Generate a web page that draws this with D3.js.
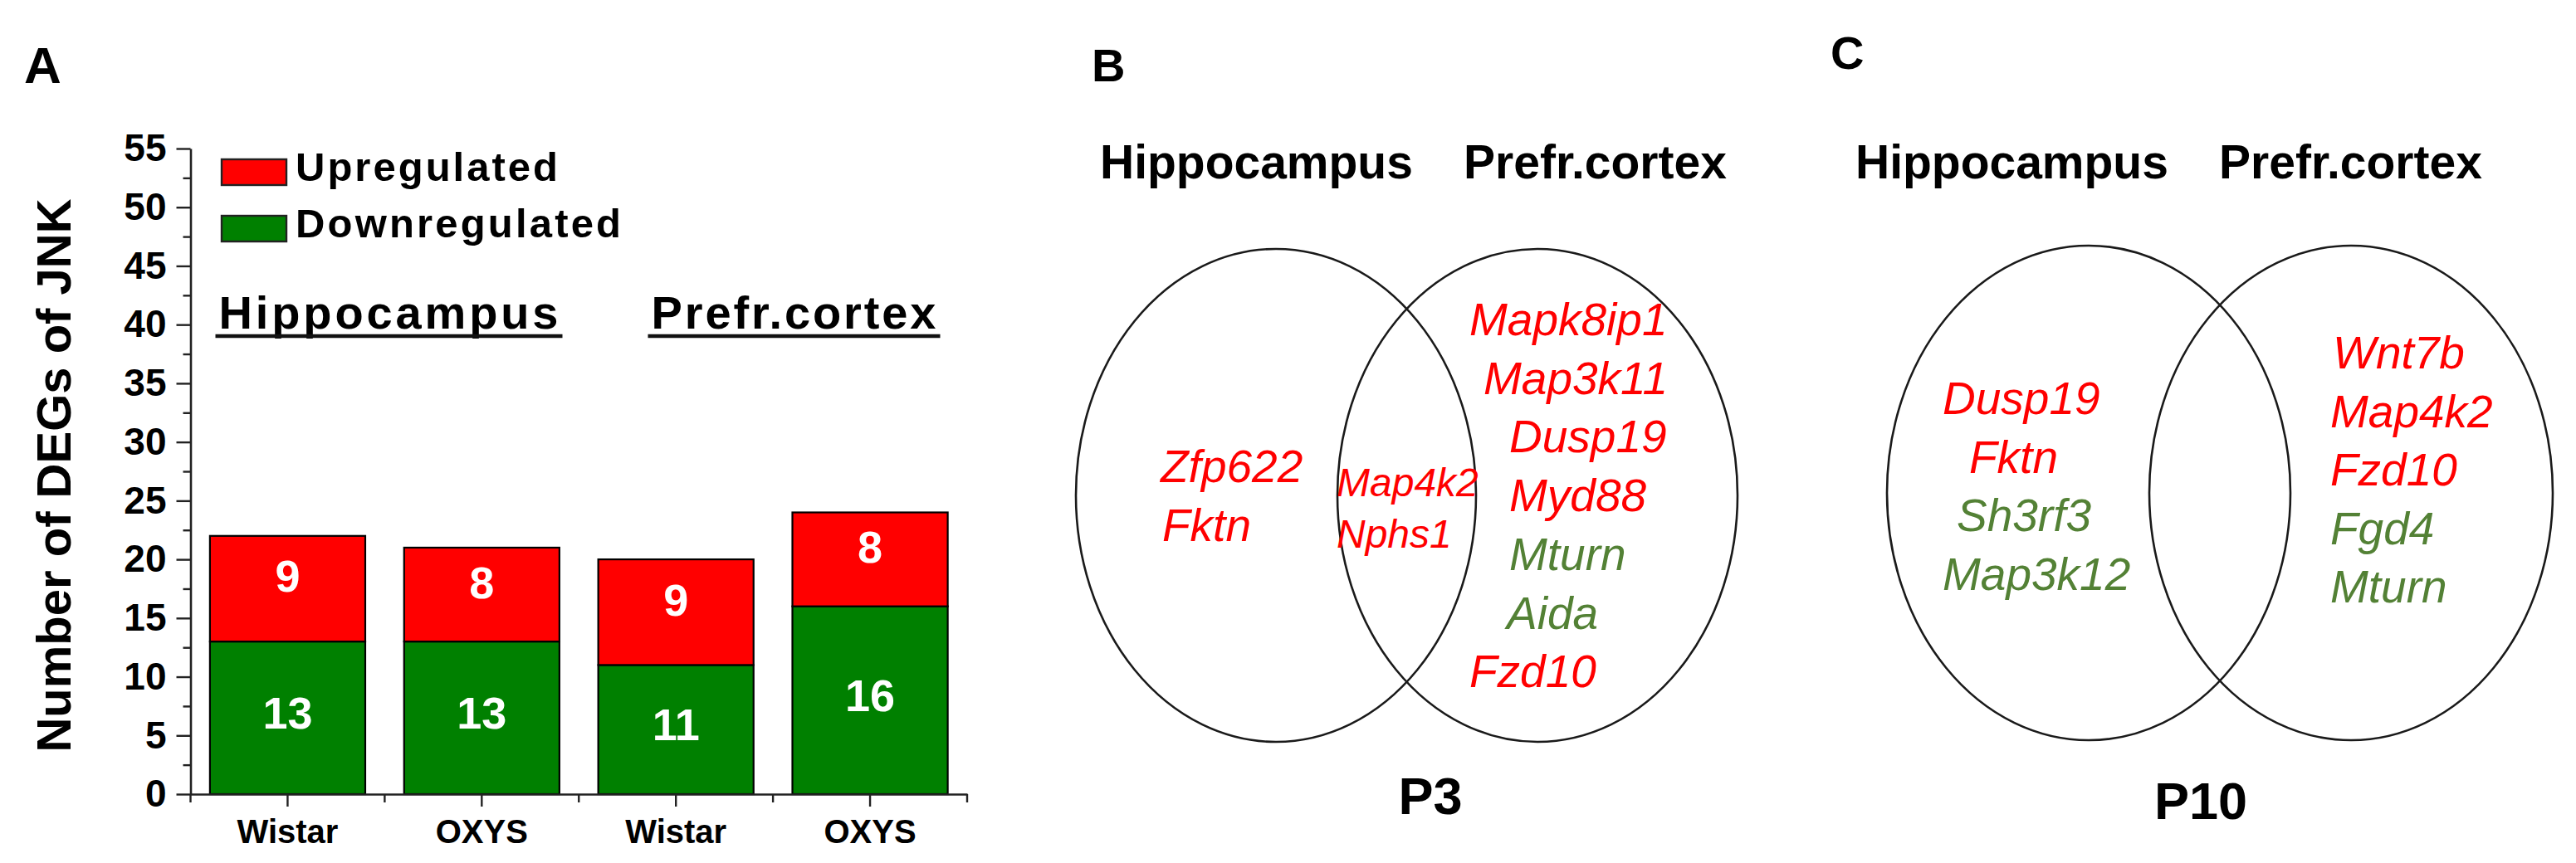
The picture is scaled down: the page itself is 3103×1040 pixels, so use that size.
<!DOCTYPE html>
<html>
<head>
<meta charset="utf-8">
<script src="https://cdn.jsdelivr.net/npm/d3@7"></script>
<style>
  html, body { margin: 0; padding: 0; background: #fff; }
  svg { display: block; }
  text { font-family: "Liberation Sans", Arial, Helvetica, sans-serif; }
</style>
</head>
<body>
<svg id="chart" width="3103" height="1040"></svg>
<script>
// ---------------- DATA ----------------
const regions = ["Hippocampus", "Hippocampus", "Prefr.cortex", "Prefr.cortex"];
const strains = ["Wistar", "OXYS", "Wistar", "OXYS"];
const downregulated = [13, 13, 11, 16];
const upregulated = [9, 8, 9, 8];
const seriesNames = ["Upregulated", "Downregulated"];
const yTicks = [0, 5, 10, 15, 20, 25, 30, 35, 40, 45, 50, 55];
const yMinorTicks = [2.5, 7.5, 12.5, 17.5, 22.5, 27.5, 32.5, 37.5, 42.5, 47.5, 52.5];
const yTitle = "Number of DEGs of JNK";
const groupTitles = ["Hippocampus", "Prefr.cortex"];

// Venn (P3)
const p3HippoGenes = ["Zfp622", "Fktn"];
const p3HippoReg = ["up", "up"];
const p3SharedGenes = ["Map4k2", "Nphs1"];
const p3SharedReg = ["up", "up"];
const p3CortexGenes = ["Mapk8ip1", "Map3k11", "Dusp19", "Myd88", "Mturn", "Aida", "Fzd10"];
const p3CortexReg = ["up", "up", "up", "up", "down", "down", "up"];
// Venn (P10)
const p10HippoGenes = ["Dusp19", "Fktn", "Sh3rf3", "Map3k12"];
const p10HippoReg = ["up", "up", "down", "down"];
const p10CortexGenes = ["Wnt7b", "Map4k2", "Fzd10", "Fgd4", "Mturn"];
const p10CortexReg = ["up", "up", "up", "down", "down"];
const vennSets = ["Hippocampus", "Prefr.cortex"];

// ---------------- STYLE / LAYOUT ----------------
const RED = "#ff0000", GREEN = "#008000", GENE_GREEN = "#538135";
const regColor = {up: RED, down: GENE_GREEN};
const svg = d3.select("#chart");

// ---------------- PANEL A ----------------
const y = d3.scaleLinear().domain([0, 55]).range([957, 179]);
const x = d3.scaleBand().domain(d3.range(strains.length)).range([229.5, 1165])
  .paddingInner(0.2).paddingOuter(0.1);

const rows = strains.map((s, i) => ({i, down: downregulated[i], up: upregulated[i]}));
const stack = d3.stack().keys(["down", "up"])(rows);
const fillFor = {down: GREEN, up: RED};
const labelDy = {down: 13, up: 4};

svg.append("text").attr("x", 29).attr("y", 100).attr("font-size", 62)
  .attr("font-weight", "bold").text("A");

const gA = svg.append("g");

// bars
stack.forEach(layer => {
  gA.append("g").selectAll("rect").data(layer).join("rect")
    .attr("x", d => x(d.data.i))
    .attr("y", d => y(d[1]))
    .attr("width", x.bandwidth())
    .attr("height", d => y(d[0]) - y(d[1]))
    .attr("fill", fillFor[layer.key])
    .attr("stroke", "#000").attr("stroke-width", 2.2);
  gA.append("g").selectAll("text").data(layer).join("text")
    .attr("x", d => x(d.data.i) + x.bandwidth() / 2)
    .attr("y", d => (y(d[0]) + y(d[1])) / 2 + labelDy[layer.key])
    .attr("text-anchor", "middle").attr("fill", "#fff")
    .attr("font-weight", "bold").attr("font-size", 54)
    .text(d => d.data[layer.key]);
});

// y axis
const yAxis = gA.append("g").attr("transform", "translate(229.5,0)")
  .call(d3.axisLeft(y).tickValues(yTicks).tickSize(17).tickPadding(12).tickSizeOuter(0));
yAxis.selectAll("text").attr("font-size", 46).attr("font-weight", "bold")
  .attr("font-family", "Liberation Sans, Arial, sans-serif").attr("fill", "#000");
yAxis.select(".domain").attr("stroke", "#222").attr("stroke-width", 2.6);
yAxis.selectAll(".tick line").attr("stroke", "#222").attr("stroke-width", 2.4);
const yMinor = gA.append("g").attr("transform", "translate(229.5,0)")
  .call(d3.axisLeft(y).tickValues(yMinorTicks).tickSize(9).tickFormat(""));
yMinor.select(".domain").remove();
yMinor.selectAll(".tick line").attr("stroke", "#222").attr("stroke-width", 2.4);

// x axis
const xAxis = gA.append("g").attr("transform", "translate(0,957)")
  .call(d3.axisBottom(x).tickFormat(i => strains[i]).tickSize(15).tickPadding(16).tickSizeOuter(0));
xAxis.selectAll("text").attr("font-size", 40).attr("font-weight", "bold")
  .attr("font-family", "Liberation Sans, Arial, sans-serif").attr("fill", "#000");
xAxis.select(".domain").attr("stroke", "#222").attr("stroke-width", 2.6);
xAxis.selectAll(".tick line").attr("stroke", "#222").attr("stroke-width", 2.4);
const boundaries = d3.range(strains.length + 1).map(k => x.range()[0] + k * x.step());
xAxis.append("g").selectAll("line").data(boundaries).join("line")
  .attr("x1", d => d).attr("x2", d => d).attr("y1", 0).attr("y2", 10)
  .attr("stroke", "#222").attr("stroke-width", 2.4);

// y title
svg.append("text").attr("transform", "translate(85,573) rotate(-90)")
  .attr("text-anchor", "middle").attr("font-size", 58).attr("font-weight", "bold")
  .text(yTitle);

// legend
const legend = gA.append("g");
const legendColors = [RED, GREEN];
const legendTextLen = [316, 392];
seriesNames.forEach((name, k) => {
  legend.append("rect").attr("x", 267).attr("y", 192 + k * 68).attr("width", 78).attr("height", 31)
    .attr("fill", legendColors[k]).attr("stroke", "#222").attr("stroke-width", 2.4);
  legend.append("text").attr("x", 356).attr("y", 218 + k * 68).attr("font-size", 49)
    .attr("font-weight", "bold").attr("textLength", legendTextLen[k])
    .attr("lengthAdjust", "spacing").text(name);
});

// group titles (underlined)
const groupCenters = [468, 956];
const groupLens = [409, 343];
groupTitles.forEach((t, k) => {
  gA.append("text").attr("x", groupCenters[k]).attr("y", 396).attr("text-anchor", "middle")
    .attr("font-size", 56).attr("font-weight", "bold")
    .attr("textLength", groupLens[k]).attr("lengthAdjust", "spacing").text(t);
  gA.append("line").attr("x1", groupCenters[k] - groupLens[k] / 2 - 4)
    .attr("x2", groupCenters[k] + groupLens[k] / 2 + 5)
    .attr("y1", 405).attr("y2", 405).attr("stroke", "#111").attr("stroke-width", 4.5);
});

// ---------------- VENN PANELS ----------------
function drawVenn(cfg) {
  const g = svg.append("g");
  g.append("text").attr("x", cfg.letterX).attr("y", cfg.letterY).attr("font-size", 56)
    .attr("font-weight", "bold").text(cfg.letter);
  vennSets.forEach((s, k) => {
    g.append("text").attr("x", cfg.headX[k]).attr("y", 215).attr("font-size", 57)
      .attr("font-weight", "bold").text(s);
  });
  cfg.centers.forEach(cx => {
    g.append("ellipse").attr("cx", cx).attr("cy", cfg.cy).attr("rx", cfg.rx).attr("ry", cfg.ry)
      .attr("fill", "none").attr("stroke", "#1a1a1a").attr("stroke-width", 2.6);
  });
  cfg.lists.forEach(L => {
    g.append("g").selectAll("text").data(L.genes).join("text")
      .attr("x", (d, i) => L.x + L.indent[i])
      .attr("y", (d, i) => L.y0 + i * L.step)
      .attr("font-size", L.size).attr("font-style", "italic")
      .attr("fill", (d, i) => regColor[L.reg[i]])
      .text(d => d);
  });
  g.append("text").attr("x", cfg.footX).attr("y", cfg.footY).attr("text-anchor", "middle")
    .attr("font-size", 63).attr("font-weight", "bold").text(cfg.foot);
}

drawVenn({
  letter: "B", letterX: 1315, letterY: 98,
  headX: [1325, 1763],
  centers: [1537, 1852], cy: 597, rx: 241, ry: 297,
  foot: "P3", footX: 1723, footY: 981,
  lists: [
    {genes: p3HippoGenes, reg: p3HippoReg, x: 1398, indent: [0, 2], y0: 581, step: 71, size: 55},
    {genes: p3SharedGenes, reg: p3SharedReg, x: 1610, indent: [0, 0], y0: 598, step: 62, size: 48},
    {genes: p3CortexGenes, reg: p3CortexReg, x: 1770, indent: [0, 17, 48, 48, 48, 45, 0], y0: 404, step: 70.7, size: 55}
  ]
});

drawVenn({
  letter: "C", letterX: 2205, letterY: 83,
  headX: [2235, 2673],
  centers: [2516, 2832], cy: 594, rx: 243, ry: 298,
  foot: "P10", footX: 2651, footY: 987,
  lists: [
    {genes: p10HippoGenes, reg: p10HippoReg, x: 2340, indent: [0, 32, 17, 0], y0: 499, step: 70.7, size: 55},
    {genes: p10CortexGenes, reg: p10CortexReg, x: 2807, indent: [3, 0, 0, 0, 0], y0: 444, step: 70.5, size: 55}
  ]
});
</script>
</body>
</html>
